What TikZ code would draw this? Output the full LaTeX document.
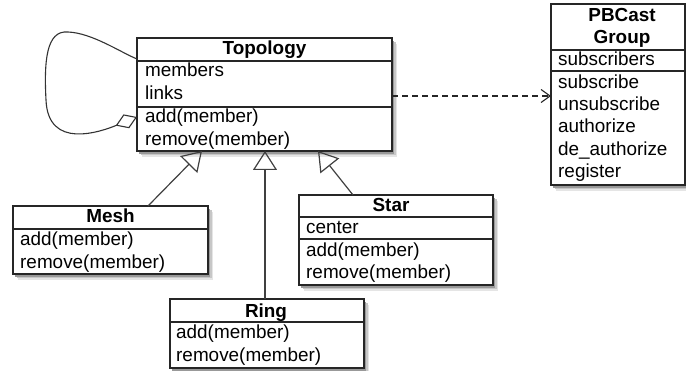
\documentclass[tikz,border=0pt]{standalone}
\usepackage{fontspec}
\setmainfont{Liberation Sans}
\usetikzlibrary{arrows.meta,calc}
\begin{document}
\begin{tikzpicture}[x=1pt,y=-1pt,
  cls/.style={draw=black!85, line width=1.3pt, fill=white, anchor=north west, inner sep=0pt, outer sep=0pt},
  sepline/.style={draw=black!85, line width=1.3pt},
  txt/.style={anchor=base west, inner sep=0pt, font=\fontsize{18.9}{22}\selectfont},
  ttl/.style={anchor=base, inner sep=0pt, font=\fontsize{18.9}{22}\selectfont\bfseries},
  gen/.style={draw=black!75, line width=1.2pt, -{Triangle[open,length=19pt,width=24pt,line width=1.2pt]}},
  dep/.style={draw=black!85, line width=1.1pt, dash pattern=on 6pt off 4pt, -{Straight Barb[length=9pt,width=13pt,line width=1.1pt]}},
  agg/.style={draw=black!80, line width=1.1pt, {Diamond[open,length=23pt,width=15pt,line width=1.1pt]}-}
]
\useasboundingbox (0,0) rectangle (686,371);

% soft shadows (drawn first)
\foreach \xa/\ya/\xb/\yb in {137/38/392/151, 551/4/685/185, 13/206/208/274, 299/195/493/285, 170/299/364/368}{
  \fill[black!10] (\xa+5,\ya+6) rectangle (\xb+5,\yb+6);
  \fill[black!22] (\xa+3.5,\ya+4.5) rectangle (\xb+3.5,\yb+4.5);
  \fill[black!40] (\xa+2,\ya+3) rectangle (\xb+2,\yb+3);
}

% boxes
\node[cls, minimum width=255pt, minimum height=113pt] (topo) at (137,38) {};
\node[cls, minimum width=134pt, minimum height=181pt] (pb) at (551,4) {};
\node[cls, minimum width=195pt, minimum height=68pt] (mesh) at (13,206) {};
\node[cls, minimum width=194pt, minimum height=90pt] (star) at (299,195) {};
\node[cls, minimum width=194pt, minimum height=69pt] (ring) at (170,299) {};

% compartments
\draw[sepline] (137,61) -- (392,61);
\draw[sepline] (137,107) -- (392,107);
\draw[sepline] (551,50) -- (685,50);
\draw[sepline] (551,71) -- (685,71);
\draw[sepline] (13,229) -- (208,229);
\draw[sepline] (299,217) -- (493,217);
\draw[sepline] (299,239) -- (493,239);
\draw[sepline] (170,322) -- (364,322);

% Topology texts
\node[ttl] (tT) at (264.5,55) {Topology};
\node[txt] (tT1) at (145,77) {members};
\node[txt] (tT2) at (145,100) {links};
\node[txt] (tT3) at (145,122.5) {add(member)};
\node[txt] (tT4) at (145,145.5) {remove(member)};

% PBCast texts
\node[ttl] (tP) at (622,22) {PBCast};
\node[ttl] (tP0) at (622,44) {Group};
\node[txt] (tP1) at (558,66) {subscribers};
\node[txt] (tP2) at (558,88.5) {subscribe};
\node[txt] (tP3) at (558,111) {unsubscribe};
\node[txt] (tP4) at (558,133) {authorize};
\node[txt] (tP5) at (558,155.5) {de\_authorize};
\node[txt] (tP6) at (558,177.5) {register};

% Mesh texts
\node[ttl] (tM) at (110.5,223) {Mesh};
\node[txt] (tM1) at (20,246) {add(member)};
\node[txt] (tM2) at (20,268.5) {remove(member)};

% Star texts
\node[ttl] (tS) at (391,211.5) {Star};
\node[txt] (tS1) at (306,234) {center};
\node[txt] (tS2) at (306,256.5) {add(member)};
\node[txt] (tS3) at (306,279) {remove(member)};

% Ring texts
\node[ttl] (tR) at (266,317.5) {Ring};
\node[txt] (tR1) at (176,339) {add(member)};
\node[txt] (tR2) at (176,361.5) {remove(member)};

% generalizations
\draw[gen] ([xshift=135pt]mesh.north west) -- ([xshift=65pt]topo.south west);
\draw[gen] ([xshift=-2pt]ring.north) -- ([xshift=-2pt]ring.north |- topo.south);
\draw[gen] ([xshift=54pt]star.north west) -- ([xshift=181pt]topo.south west);

% dependency
\draw[dep] ([yshift=-58pt]topo.north east) -- ([yshift=-92pt]pb.north west);

% self aggregation
\draw[agg] ([yshift=-79pt]topo.north west)
  .. controls (100,132) and (48,150) .. (46,100)
  .. controls (44,62) and (46,30) .. (68,32)
  .. controls (92,33) and (120,52) .. ([yshift=-21pt]topo.north west);
\end{tikzpicture}
\end{document}
